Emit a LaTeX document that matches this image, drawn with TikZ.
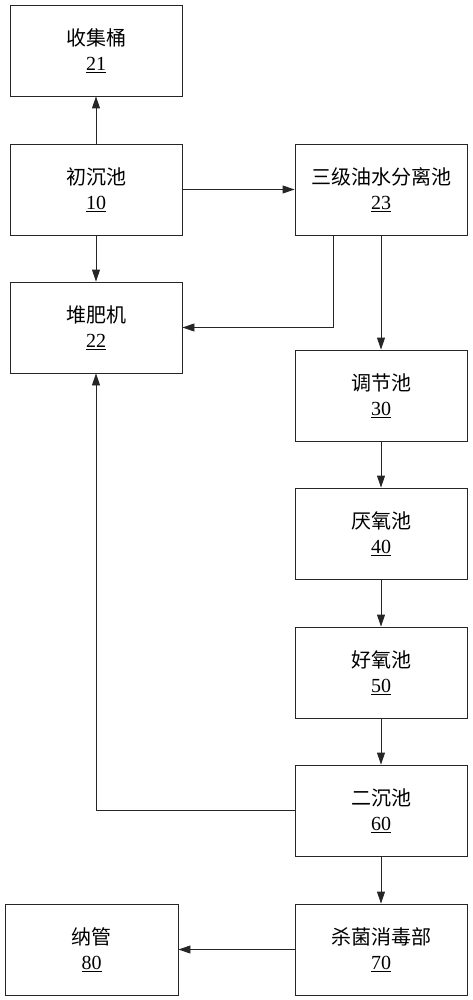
\documentclass[tikz,border=0pt]{standalone}
\usepackage{fontspec}
\setmainfont{Liberation Serif}
\newfontfamily\cjk{Noto Sans CJK SC}
\usetikzlibrary{arrows.meta}
\newcommand{\lbl}[2]{{\cjk #1}\\\underline{#2}}
\begin{document}
\begin{tikzpicture}[x=1pt,y=-1pt,
  box/.style={draw=black!85,line width=0.9pt,minimum width=172pt,minimum height=91pt,inner sep=0pt,
    align=center,font=\fontsize{20pt}{25pt}\selectfont},
  flow/.style={draw=black!85,line width=0.9pt,-{Triangle[length=12pt,width=8pt]}}]
\useasboundingbox (0,0) rectangle (473,1000);
\node[box] (b21) at (96,50.5) {\lbl{收集桶}{21}};
\node[box] (b10) at (96,189.5) {\lbl{初沉池}{10}};
\node[box] (b23) at (381,189.5) {\lbl{三级油水分离池}{23}};
\node[box] (b22) at (96,327.5) {\lbl{堆肥机}{22}};
\node[box] (b30) at (381,395.5) {\lbl{调节池}{30}};
\node[box] (b40) at (381,533.5) {\lbl{厌氧池}{40}};
\node[box] (b50) at (381,672.5) {\lbl{好氧池}{50}};
\node[box] (b60) at (381,810.5) {\lbl{二沉池}{60}};
\node[box] (b70) at (381,949.5) {\lbl{杀菌消毒部}{70}};
\node[box,minimum width=173pt] (b80) at (91.5,949.5) {\lbl{纳管}{80}};
\draw[flow] (b10) -- (b21);
\draw[flow] (b10) -- (b22);
\draw[flow] (b10) -- (b23);
\draw[flow] (b23.south -| 333,0) |- (b22.east);
\draw[flow] (b23) -- (b30);
\draw[flow] (b30) -- (b40);
\draw[flow] (b40) -- (b50);
\draw[flow] (b50) -- (b60);
\draw[flow] (b60) -- (b70);
\draw[flow] (b70) -- (b80);
\draw[flow] (b60.west) -| (b22.south);
\end{tikzpicture}
\end{document}
